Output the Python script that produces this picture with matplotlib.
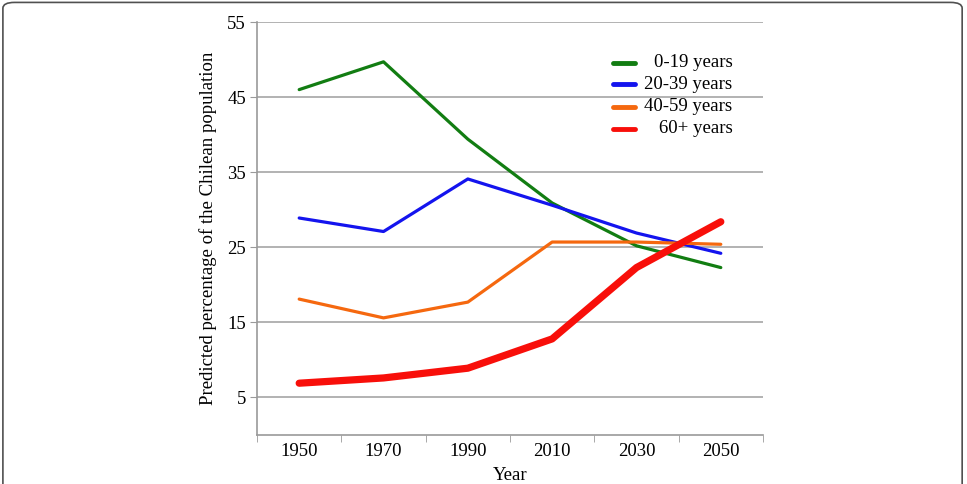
import matplotlib
matplotlib.use("Agg")
import matplotlib.pyplot as plt
from matplotlib.patches import FancyBboxPatch

# ---------------------------------------------------------------------------
# Data
# ---------------------------------------------------------------------------
years = ["1950", "1970", "1990", "2010", "2030", "2050"]
age_0_19 = [46.0, 49.7, 39.4, 30.9, 25.2, 22.3]
age_20_39 = [28.9, 27.1, 34.1, 30.6, 26.9, 24.2]
age_40_59 = [18.1, 15.6, 17.7, 25.7, 25.7, 25.4]
age_60_plus = [6.9, 7.6, 8.9, 12.8, 22.3, 28.4]

series_labels = ["0-19 years", "20-39 years", "40-59 years", "60+ years"]
y_ticks = [5, 15, 25, 35, 45, 55]

plt.rcParams["font.family"] = ["Liberation Serif", "DejaVu Serif"]
FS = 13.5

fig = plt.figure(figsize=(9.67, 4.84), dpi=100)

# rounded frame around the whole figure (bottom edge cut off)
frame = FancyBboxPatch((0.003, -0.1), 0.992, 1.095,
                       boxstyle="round,pad=0,rounding_size=0.012",
                       transform=fig.transFigure, fill=False,
                       edgecolor="#505050", linewidth=1.2)
fig.patches.append(frame)

ax = fig.add_axes([0.2658, 0.1012, 0.5232, 0.8533])

x = list(range(len(years)))
colors = ["#127d12", "#1414ee", "#f5680f", "#f80f0a"]
widths = [2.3, 2.3, 2.3, 5.2]
for vals, c, lw in zip([age_0_19, age_20_39, age_40_59, age_60_plus], colors, widths):
    ax.plot(x, vals, color=c, linewidth=lw, solid_capstyle="round",
            solid_joinstyle="round")

ax.set_xlim(-0.5, len(years) - 0.5)
ax.set_ylim(0, 55)
ax.set_yticks(y_ticks)
ax.set_xticks(x)
ax.set_xticklabels(years)
ax.set_xticks([i - 0.5 for i in range(len(years) + 1)], minor=True)
ax.tick_params(axis="x", which="major", length=0, pad=6, labelsize=FS)
ax.tick_params(axis="x", which="minor", length=5, color="#9a9a9a")
ax.tick_params(axis="y", length=5, color="#9a9a9a", labelsize=FS, pad=3)
ax.grid(axis="y", color="#a6a6a6", linewidth=1.2)
ax.set_axisbelow(True)
for s in ["top", "right"]:
    ax.spines[s].set_visible(False)
for s in ["left", "bottom"]:
    ax.spines[s].set_color("#9a9a9a")
    ax.spines[s].set_linewidth(1.2)

ax.set_ylabel("Predicted percentage of the Chilean population", fontsize=FS,
              labelpad=7)
ax.set_xlabel("Year", fontsize=FS, labelpad=5)

# legend: short line handles, right-aligned labels
leg_y = [0.901, 0.849, 0.795, 0.742]
for lab, c, yy in zip(series_labels, colors, leg_y):
    ax.plot([0.703, 0.748], [yy, yy], transform=ax.transAxes, color=c,
            linewidth=3.5, solid_capstyle="round", clip_on=False)
    ax.text(0.94, yy, lab, transform=ax.transAxes, ha="right", va="center",
            fontsize=FS)

fig.savefig("out.png", dpi=100)
